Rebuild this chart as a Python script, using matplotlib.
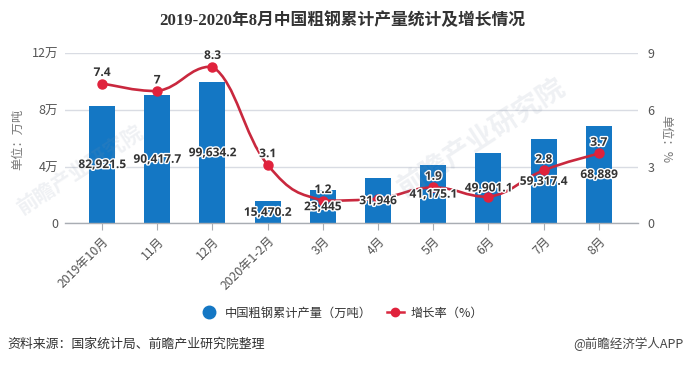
import numpy as np
import matplotlib
matplotlib.use("Agg")
import matplotlib.pyplot as plt
from matplotlib.path import Path
from matplotlib.patches import PathPatch
from matplotlib.lines import Line2D
import matplotlib.patheffects as pe

plt.rcParams['font.family'] = ['Noto Sans CJK SC', 'DejaVu Sans']

categories = ['2019年10月', '11月', '12月', '2020年1-2月', '3月', '4月', '5月', '6月', '7月', '8月']
output = [82921.5, 90417.7, 99634.2, 15470.2, 23445, 31946, 41175.1, 49901.1, 59317.4, 68889]
output_labels = ['82,921.5', '90,417.7', '99,634.2', '15,470.2', '23,445', '31,946', '41,175.1', '49,901.1', '59,317.4', '68,889']
growth = [7.4, 7, 8.3, 3.1, 1.2, 1.3, 1.9, 1.4, 2.8, 3.7]
growth_labels = ['7.4', '7', '8.3', '3.1', '1.2', '', '1.9', '', '2.8', '3.7']
left_ticks = [0, 40000, 80000, 120000]
left_tick_labels = ['0', '4万', '8万', '12万']
right_ticks = [0, 3, 6, 9]

W, H = 684, 365
fig = plt.figure(figsize=(W / 100, H / 100), dpi=100, facecolor='white')
L, R, T, B = 65, 638, 53.3, 223.3
ax = fig.add_axes([L / W, 1 - B / H, (R - L) / W, (B - T) / H])
ax2 = ax.twinx()
step = 55.2
ax.set_xlim(-(102 - L) / step, (R - 102) / step)
ax.set_ylim(0, 120000)
ax2.set_ylim(0, 9)
ax.set_zorder(1)
ax2.set_zorder(2)
ax2.patch.set_visible(False)

grey = '#d9dce3'
for a in (ax, ax2):
    for s in a.spines.values():
        s.set_visible(False)
ax.set_axisbelow(True)
ax.yaxis.grid(True, color=grey, lw=1)
ax.xaxis.grid(False)
ax.spines['bottom'].set_visible(True)
ax.spines['bottom'].set_color('#a9adb3')
ax.spines['bottom'].set_linewidth(1)

x = np.arange(len(categories))
ax.bar(x, output, width=0.47, color='#1477c4', zorder=2)

ax.set_xticks(x)
ax.set_xticklabels(categories, rotation=45, ha='right', va='top', rotation_mode='anchor',
                   fontsize=8.8, color='#555555')
ax.tick_params(axis='x', length=5, width=0.8, color='#a9adb3', pad=3)
ax.set_yticks(left_ticks)
ax.set_yticklabels(left_tick_labels, fontsize=9, color='#555555')
ax.tick_params(axis='y', length=0, pad=5)
ax2.set_yticks(right_ticks)
ax2.set_yticklabels([str(v) for v in right_ticks], fontsize=9, color='#555555')
ax2.tick_params(axis='y', length=0, pad=7)

# smooth curve through the data points, control points kept inside each segment's range
g = np.array(growth, dtype=float)
pts = np.column_stack([x, g])
verts = [tuple(pts[0])]
codes = [Path.MOVETO]
k = 0.22
for i in range(len(pts) - 1):
    p0 = pts[max(i - 1, 0)]
    p1 = pts[i]
    p2 = pts[i + 1]
    p3 = pts[min(i + 2, len(pts) - 1)]
    lo, hi = min(p1[1], p2[1]), max(p1[1], p2[1])
    c1 = p1 + (p2 - p0) * k
    c2 = p2 - (p3 - p1) * k
    c1[1] = np.clip(c1[1], lo, hi)
    c2[1] = np.clip(c2[1], lo, hi)
    verts += [tuple(c1), tuple(c2), tuple(p2)]
    codes += [Path.CURVE4] * 3
ax2.add_patch(PathPatch(Path(verts, codes), fill=False, edgecolor='#c9283e', lw=1.9, zorder=3))
ax2.plot(x, g, ls='none', marker='o', ms=6.5, color='#e0223c', mec='#e0223c', zorder=4)

halo = [pe.withStroke(linewidth=2, foreground='white')]
lab = dict(fontsize=8.6, fontweight='bold', color='#333333', family=['Open Sans', 'DejaVu Sans'],
           path_effects=halo, zorder=6)
for xi, v, t in zip(x, output, output_labels):
    ax2.annotate(t, (xi, v / 2 / 120000 * 9), ha='center', va='center', **lab)
for xi, v, t in zip(x, growth, growth_labels):
    if t:
        ax2.annotate(t, (xi, v), xytext=(0, 8), textcoords='offset points',
                     ha='center', va='center', **lab)

# watermark
wm = dict(color='#8090a8', alpha=0.13, rotation=33, ha='center', va='center', zorder=5,
          fontweight='bold', rotation_mode='anchor')
fig.text(481 / W, 1 - 137 / H, '前瞻产业研究院', fontsize=20, **wm)
fig.text(80 / W, 1 - 170 / H, '前瞻产业研究院', fontsize=15, **wm)

# titles
fig.text(342 / W, 1 - 21 / H, '2019-2020年8月中国粗钢累计产量统计及增长情况', ha='center', va='center',
         fontsize=12.1, fontweight='bold', color='#333333', family=['Liberation Serif', 'Noto Sans CJK SC'])
fig.text(18 / W, 1 - 139 / H, '单位：万吨', rotation=90, ha='center', va='center', fontsize=8.8, color='#777777')
fig.text(666 / W, 1 - 139 / H, '单位：%', rotation=270, ha='center', va='center', fontsize=8.8, color='#777777')

handles = [
    Line2D([], [], ls='none', marker='o', ms=9, color='#1477c4'),
    Line2D([], [], color='#d9283f', lw=1.8, marker='o', ms=6, mfc='#e0223c', mec='#e0223c'),
]
leg = fig.legend(handles, ['中国粗钢累计产量（万吨）', '增长率（%）'], ncol=2, frameon=False,
           loc='center', bbox_to_anchor=(342 / W, 1 - 313 / H), fontsize=8.8,
           labelcolor='#333333', handlelength=1.4, handletextpad=0.6, columnspacing=1.2)
for t in leg.get_texts():
    t.set_fontweight('medium')

fig.text(7 / W, 1 - 344 / H, '资料来源：国家统计局、前瞻产业研究院整理', ha='left', va='center',
         fontsize=9.3, color='#333333')
fig.text(683 / W, 1 - 344 / H, '@前瞻经济学人APP', ha='right', va='center', fontsize=9, color='#444444')

fig.savefig('out.png', dpi=100, facecolor='white')
